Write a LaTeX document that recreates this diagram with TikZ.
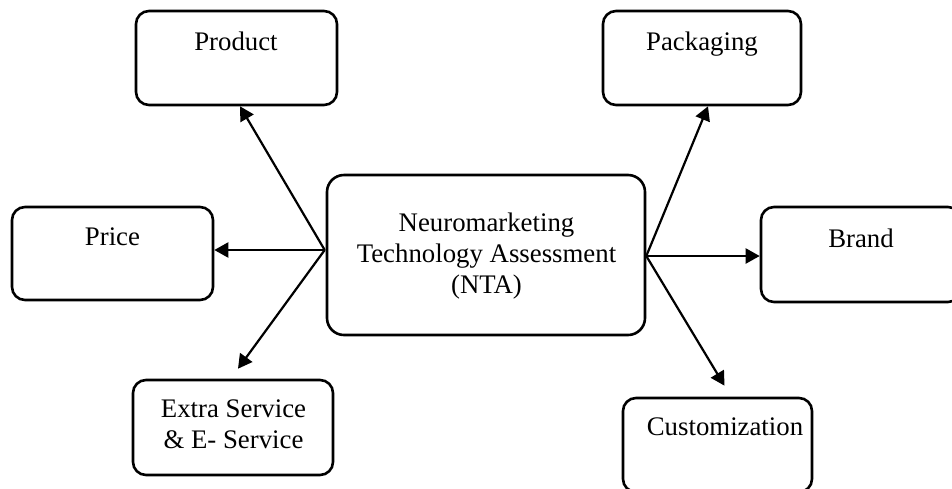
\documentclass[tikz,border=0pt]{standalone}
\usepackage{fontspec}
\setmainfont{Liberation Serif}
\usetikzlibrary{arrows.meta,calc}
\tikzset{
  box/.style={draw, line width=1.3pt, rounded corners=6.5pt, inner sep=0pt},
  hubbox/.style={box, rounded corners=8.5pt},
  lbl/.style={font=\fontsize{13.4}{15.3}\selectfont, align=center, inner sep=0pt, anchor=base},
  arr/.style={line width=1.1pt, -{Triangle[length=7pt,width=7.5pt]}}
}
\begin{document}
\begin{tikzpicture}[x=0.5pt,y=-0.5pt]
  \useasboundingbox (0,0) rectangle (952,488);

  % central assessment box (label anchored on its last baseline)
  \node[hubbox, minimum width=159pt, minimum height=80pt] (nta) at (486,255) {};
  \node[lbl] (ntalbl) at (486.5,293) {Neuromarketing\\Technology Assessment\\(NTA)};

  % surrounding factor boxes
  \node[box, minimum width=100.5pt, minimum height=47pt] (product) at (236.5,58) {};
  \node[lbl] (productlbl) at (236,50) {Product};

  \node[box, minimum width=99pt, minimum height=47pt] (packaging) at (702,58) {};
  \node[lbl] (packaginglbl) at (702,50) {Packaging};

  \node[box, minimum width=100.5pt, minimum height=46.5pt] (price) at (112.5,253.5) {};
  \node[lbl] (pricelbl) at (112.5,245) {Price};

  \node[box, minimum width=100pt, minimum height=47.5pt] (brand) at (861,254.5) {};
  \node[lbl] (brandlbl) at (861,247) {Brand};

  \node[box, minimum width=100pt, minimum height=47.5pt] (extra) at (233,427.5) {};
  \node[lbl] (extralbl) at (233.5,448) {Extra Service\\\& E- Service};

  \node[box, minimum width=94.5pt, minimum height=47pt] (custom) at (717.5,445) {};
  \node[lbl] (customlbl) at (725,435) {Customization};

  % connector hubs on the sides of the central box
  \coordinate (hubL) at ($(nta.west)+(-1,-5)$);
  \coordinate (hubR) at ($(nta.east)+(0,1)$);

  % arrows to the factors
  \draw[arr] (hubL) -- ($(product.south)+(3.5,0)$);
  \draw[arr] (hubL) -- (hubL -| price.east);
  \draw[arr] (hubL) -- ($(extra.north)+(5,-10)$);
  \draw[arr] (hubR) -- ($(packaging.south)+(6,0)$);
  \draw[arr] (hubR) -- (hubR -| brand.west);
  \draw[arr] (hubR) -- ($(custom.north)+(7,-11)$);
\end{tikzpicture}
\end{document}
